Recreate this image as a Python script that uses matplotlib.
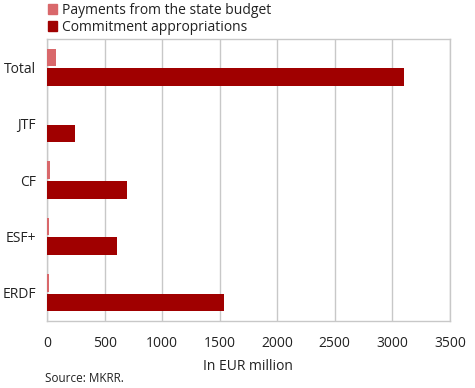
import matplotlib.pyplot as plt
import numpy as np
from matplotlib.patches import Patch

plt.rcParams['font.family'] = ['Open Sans', 'DejaVu Sans']

categories = ["Total", "JTF", "CF", "ESF+", "ERDF"]
payments = [78, 0, 23, 15, 15]
commitments = [3100, 243, 695, 605, 1538]

pay_color = "#D9686B"
com_color = "#A00000"

fig = plt.figure(figsize=(4.75, 3.88), dpi=100)
ax = fig.add_axes([0.099, 0.173, 0.848, 0.726])

y = np.arange(len(categories))
h = 0.31
ax.barh(y - h / 2 - 0.02, payments, height=h, color=pay_color, zorder=3)
ax.barh(y + h / 2 + 0.02, commitments, height=h, color=com_color, zorder=3)

ax.set_yticks(y)
ax.set_yticklabels(categories, fontsize=10)
ax.set_ylim(len(categories) - 0.5, -0.5)
ax.set_xlim(0, 3500)
ax.set_xticks(np.arange(0, 3501, 500))
ax.tick_params(axis='x', labelsize=10, length=0, pad=11, colors="#222222")
ax.tick_params(axis='y', length=0, pad=8, colors="#222222")
ax.grid(axis='x', color="#C8C8C8", linewidth=1, zorder=0)
for s in ax.spines.values():
    s.set_color("#C8C8C8")
    s.set_linewidth(1)

ax.set_xlabel("In EUR million", fontsize=10, color="#222222", labelpad=6)

handles = [Patch(color=pay_color, label="Payments from the state budget"),
           Patch(color=com_color, label="Commitment appropriations")]
fig.legend(handles=handles, loc='upper left', bbox_to_anchor=(0.074, 1.025),
           frameon=False, fontsize=10, handlelength=0.7, handleheight=0.7,
           handletextpad=0.3, labelspacing=0.15, labelcolor="#222222")

fig.text(0.095, 0.016, "Source: MKRR.", fontsize=8.5, color="#222222")

fig.savefig("out.png", dpi=100)
